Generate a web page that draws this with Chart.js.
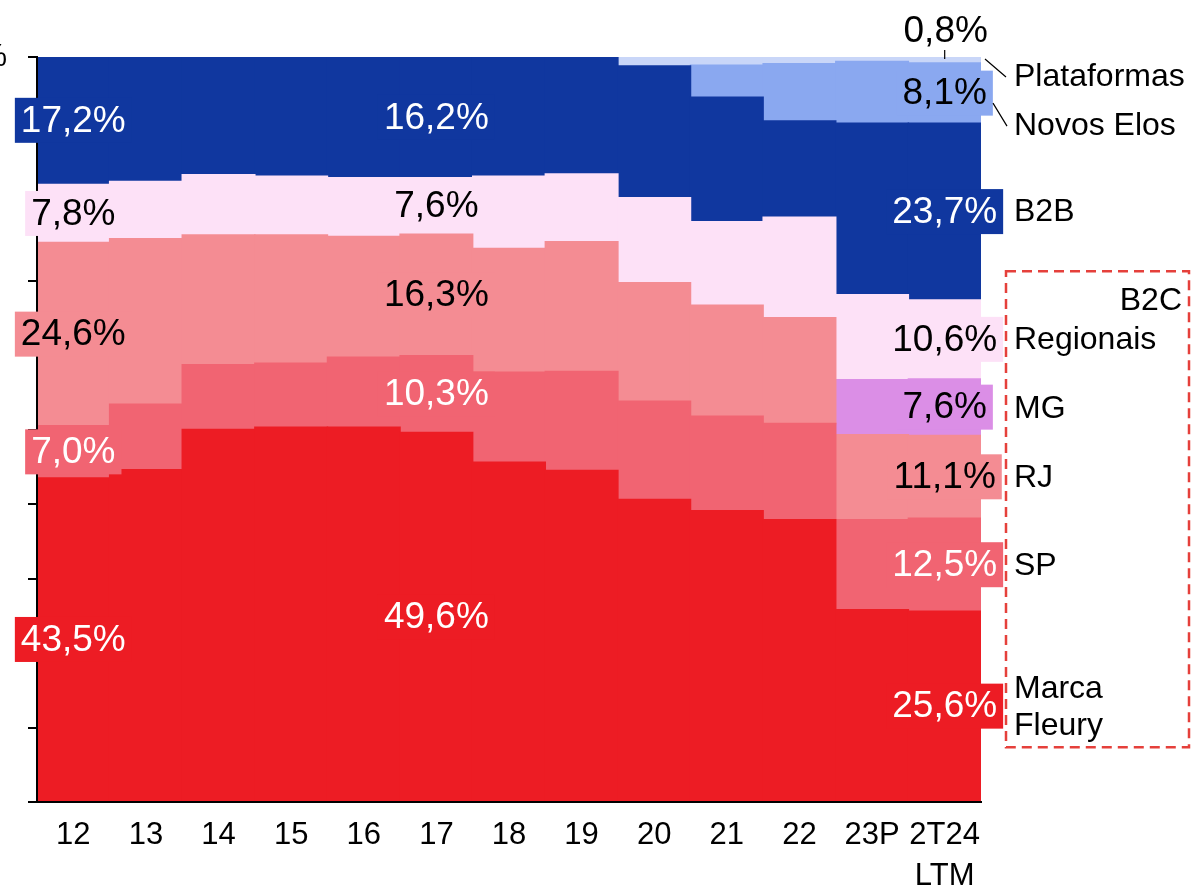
<!DOCTYPE html>
<html>
<head>
<meta charset="utf-8">
<title>Mix de receita</title>
<script src="https://cdn.jsdelivr.net/npm/chart.js@4.4.1/dist/chart.umd.min.js"></script>
<style>
  html, body { margin: 0; padding: 0; background: #fff; }
  #chart { display: block; }
</style>
</head>
<body>
<canvas id="chart" width="1191" height="886"></canvas>
<script>
// share of revenue (%) per year, bottom to top of the stack
const categories = ['12', '13', '14', '15', '16', '17', '18', '19', '20', '21', '22', '23P', ['2T24', 'LTM']];
const marcaFleury = [43.5, 44.6, 50.0, 50.3, 50.3, 49.6, 45.6, 44.5, 40.6, 39.1, 37.9, 25.8, 25.6];
const sp          = [7.0, 8.8, 8.7, 8.6, 9.4, 10.3, 12.1, 13.3, 13.2, 12.7, 12.9, 12.1, 12.5];
const rj          = [24.6, 22.2, 17.4, 17.2, 16.2, 16.3, 16.6, 17.4, 15.9, 14.9, 14.2, 11.4, 11.1];
const mg          = [0, 0, 0, 0, 0, 0, 0, 0, 0, 0, 0, 7.4, 7.6];
const regionais   = [7.8, 7.7, 8.1, 7.9, 7.9, 7.6, 9.7, 9.1, 11.4, 11.2, 13.5, 11.4, 10.6];
const b2b         = [17.2, 16.7, 15.7, 16.0, 16.2, 16.2, 16.0, 15.7, 17.7, 16.7, 12.9, 23.0, 23.7];
const novosElos   = [0, 0, 0, 0, 0, 0, 0, 0, 0, 4.3, 7.7, 8.3, 8.1];
const plataformas = [0, 0, 0, 0, 0, 0, 0, 0, 1.2, 1.0, 0.9, 0.7, 0.8];

const seriesNames = ['Marca Fleury', 'SP', 'RJ', 'MG', 'Regionais', 'B2B', 'Novos Elos', 'Plataformas'];
const seriesData = [marcaFleury, sp, rj, mg, regionais, b2b, novosElos, plataformas];
const colors = ['#ED1C24', '#F16472', '#F48C93', '#DB8EE6', '#FDE1F7', '#10379F', '#8AA8F0', '#C9D6F8'];
const textColors = ['#fff', '#fff', '#000', '#000', '#000', '#fff', '#000', '#000'];
const labelColumns = [0, 5, 12];
const yTicks = [0, 10, 20, 30, 40, 50, 60, 70, 80, 90, 100];

const FONT = '"Liberation Sans", Arial, sans-serif';
const LAST = categories.length - 1;
const PLAT = seriesNames.indexOf('Plataformas');

function fmt(v) {
    return v.toFixed(1).replace('.', ',') + '%';
}

// value boxes centred in the segments of a few columns
// (drawn after everything so they cover the axis line, like the original)
const segmentLabels = {
    id: 'segmentLabels',
    afterDraw(chart) {
        const ctx = chart.ctx;
        ctx.save();
        ctx.font = '37px ' + FONT;
        ctx.textAlign = 'center';
        ctx.textBaseline = 'middle';
        chart.data.datasets.forEach((ds, di) => {
            const meta = chart.getDatasetMeta(di);
            labelColumns.forEach(i => {
                const v = seriesData[di][i];
                if (!v || di === PLAT) return;
                const bar = meta.data[i];
                const cy = (bar.y + bar.base) / 2;
                const text = fmt(v);
                const w = ctx.measureText(text).width + 12;
                ctx.fillStyle = colors[di];
                ctx.fillRect(bar.x - w / 2, cy - 22.5, w, 45);
                ctx.fillStyle = textColors[di];
                ctx.fillText(text, bar.x, cy + 1);
            });
        });
        ctx.restore();
    }
};

// names on the right, leader lines, B2C box
const sideLegend = {
    id: 'sideLegend',
    afterDraw(chart) {
        const ctx = chart.ctx;
        const area = chart.chartArea;
        const lx = area.right + 33;
        const mid = di => {
            const bar = chart.getDatasetMeta(di).data[LAST];
            return (bar.y + bar.base) / 2;
        };
        ctx.save();

        // 0,8% above the last column
        const platBar = chart.getDatasetMeta(PLAT).data[LAST];
        const top = platBar.y;
        ctx.font = '37px ' + FONT;
        ctx.fillStyle = '#000';
        ctx.textAlign = 'center';
        ctx.textBaseline = 'middle';
        ctx.fillText(fmt(plataformas[LAST]), platBar.x + 1, top - 25);
        ctx.strokeStyle = '#000';
        ctx.lineWidth = 1.2;
        ctx.beginPath();
        ctx.moveTo(platBar.x, top - 7);
        ctx.lineTo(platBar.x, top + 2);
        ctx.stroke();

        ctx.font = '32px ' + FONT;
        ctx.textAlign = 'left';
        const rows = [
            ['Plataformas', top + 20],
            ['Novos Elos', mid(6) + 33],
            ['B2B', mid(5) + 1],
            ['Regionais', mid(4) + 1],
            ['MG', mid(3) + 2],
            ['RJ', mid(2) + 1],
            ['SP', mid(1) + 1],
            ['Marca', mid(0) - 17],
            ['Fleury', mid(0) + 20]
        ];
        rows.forEach(r => ctx.fillText(r[0], lx, r[1]));

        // leader lines
        ctx.beginPath();
        ctx.moveTo(area.right + 4, top + 2);
        ctx.lineTo(lx - 8, rows[0][1]);
        ctx.moveTo(area.right + 12, mid(6) + 10);
        ctx.lineTo(lx - 7, rows[1][1]);
        ctx.stroke();

        // B2C dashed frame
        const boxTop = rows[3][1] - 69;
        const boxBottom = rows[8][1] + 21;
        ctx.strokeStyle = '#E5403B';
        ctx.lineWidth = 2.5;
        ctx.setLineDash([10, 6]);
        ctx.strokeRect(lx - 8, boxTop, chart.width - 2 - (lx - 8), boxBottom - boxTop);
        ctx.setLineDash([]);
        ctx.textAlign = 'right';
        ctx.fillStyle = '#000';
        ctx.fillText('B2C', chart.width - 9, boxTop + 30);
        ctx.restore();
    }
};

const ctx = document.getElementById('chart').getContext('2d');
const chart = new Chart(ctx, {
    type: 'bar',
    data: {
        labels: categories,
        datasets: seriesNames.map((name, di) => ({
            label: name,
            data: seriesData[di].map(v => v || null),
            backgroundColor: colors[di],
            borderWidth: 0,
            inflateAmount: 0.7,
            barPercentage: 1,
            categoryPercentage: 1
        }))
    },
    options: {
        responsive: false,
        animation: false,
        devicePixelRatio: 1,
        layout: { padding: { top: 57, right: 210, left: 0, bottom: 0 } },
        plugins: {
            legend: { display: false },
            tooltip: { enabled: false }
        },
        scales: {
            x: {
                stacked: true,
                grid: { display: false, drawTicks: false },
                border: { display: true, color: '#000', width: 2, z: 1 },
                ticks: {
                    color: '#000',
                    padding: 13,
                    maxRotation: 0,
                    autoSkip: false,
                    font: { family: FONT, size: 31, lineHeight: '41px' }
                },
                afterFit(scale) { scale.height = 84; }
            },
            y: {
                stacked: true,
                min: 0,
                max: 100,
                afterBuildTicks(scale) { scale.ticks = yTicks.map(v => ({ value: v })); },
                grid: {
                    drawOnChartArea: false,
                    drawTicks: true,
                    tickLength: 9,
                    color: '#000',
                    lineWidth: 2
                },
                border: { display: true, color: '#000', width: 2, z: 1 },
                ticks: {
                    color: '#000',
                    padding: 21,
                    font: { family: FONT, size: 31 },
                    callback: v => v === 100 ? '100%' : ''
                },
                afterFit(scale) { scale.width = 37; }
            }
        }
    },
    plugins: [segmentLabels, sideLegend]
});
</script>
</body>
</html>
